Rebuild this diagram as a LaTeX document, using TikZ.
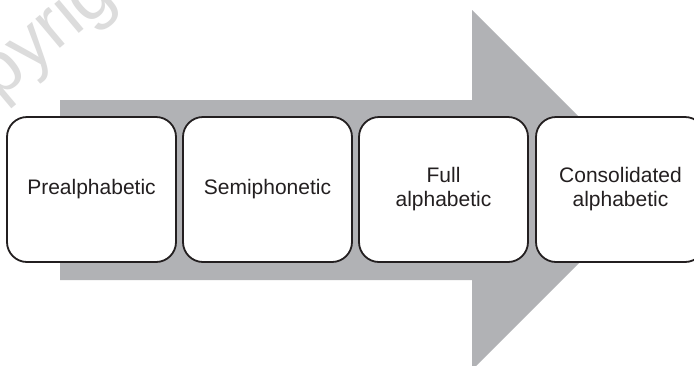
\documentclass[tikz,border=0pt]{standalone}
\usepackage{fontspec}
\setmainfont{Liberation Sans}
\definecolor{arrowgray}{HTML}{B1B2B5}
\definecolor{wmgray}{HTML}{DCDCDC}
\definecolor{textdark}{HTML}{231F20}
\tikzset{
  stagebox/.style={draw=textdark, line width=1.8pt, fill=white, rounded corners=20pt,
    minimum width=169pt, minimum height=145pt, inner sep=0pt, align=center,
    text=textdark, font=\fontsize{21pt}{24pt}\selectfont},
  bigarrow/.style={fill=arrowgray, draw=none},
  watermark/.style={text=wmgray, inner sep=0pt, font=\fontsize{72pt}{72pt}\selectfont}
}
\begin{document}
\begin{tikzpicture}[x=1pt,y=-1pt]
\useasboundingbox (0,0) rectangle (694,365);
\clip (0,0) rectangle (694,365);
\fill[white] (0,0) rectangle (694,365);
\node[watermark, rotate=40, anchor=base west] (wm) at (-72,160) {Copyright};
\path[bigarrow] (60,100) -- (472,100) -- (472,10) -- (652,190) -- (472,370) -- (472,280) -- (60,280) -- cycle;
\node[stagebox] (b1) at (91.5,189.5) {Prealphabetic};
\node[stagebox] (b2) at (267.5,189.5) {Semiphonetic};
\node[stagebox] (b3) at (443.5,189.5) {Full\\alphabetic};
\node[stagebox] (b4) at (620.5,189.5) {Consolidated\\alphabetic};
\end{tikzpicture}
\end{document}
